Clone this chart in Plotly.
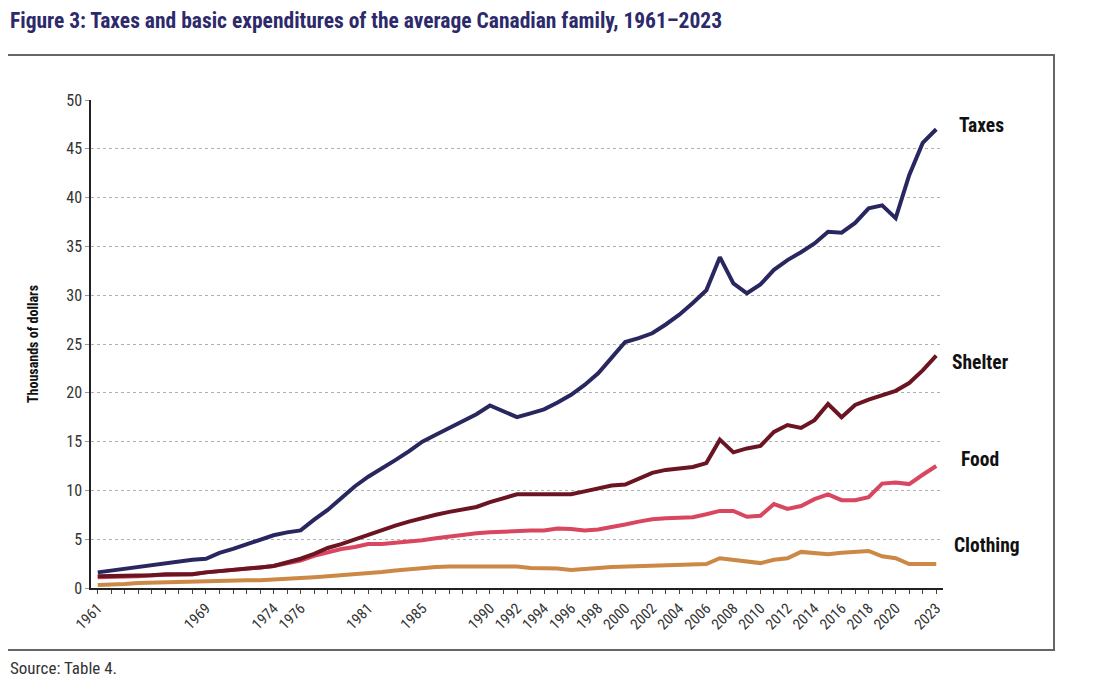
import plotly.graph_objects as go

# Average Canadian family, thousands of dollars
years = list(range(1961, 2024))

taxes = [
    1.6, 1.8, 2.0, 2.2, 2.3, 2.5, 2.7, 2.9, 3.0, 3.6,
    4.0, 4.5, 5.0, 5.4, 5.7, 5.9, 7.0, 8.0, 9.2, 10.4,
    11.4, 12.2, 13.1, 14.0, 15.0, 15.7, 16.4, 17.2, 17.8, 18.7,
    18.1, 17.5, 17.9, 18.3, 19.0, 19.8, 20.8, 22.0, 23.6, 25.2,
    25.6, 26.1, 27.0, 28.0, 29.2, 30.5, 33.9, 31.2, 30.2, 31.1,
    32.6, 33.6, 34.4, 35.3, 36.5, 36.4, 37.4, 38.9, 39.2, 37.9,
    42.3, 45.6, 47.0,
]
shelter = [
    1.2, 1.2, 1.3, 1.3, 1.3, 1.4, 1.4, 1.4, 1.6, 1.7,
    1.85, 2.0, 2.1, 2.25, 2.6, 3.0, 3.5, 4.1, 4.5, 5.0,
    5.4, 5.9, 6.4, 6.8, 7.2, 7.5, 7.8, 8.0, 8.3, 8.8,
    9.2, 9.6, 9.6, 9.6, 9.6, 9.6, 9.9, 10.2, 10.5, 10.6,
    11.2, 11.8, 12.1, 12.3, 12.4, 12.8, 15.2, 13.9, 14.3, 14.55,
    16.0, 16.7, 16.4, 17.2, 18.85, 17.5, 18.75, 19.3, 19.8, 20.2,
    21.0, 22.3, 23.8,
]
food = [
    1.1, 1.1, 1.2, 1.2, 1.3, 1.3, 1.35, 1.4, 1.6, 1.7,
    1.85, 2.0, 2.1, 2.25, 2.5, 2.8, 3.3, 3.7, 4.0, 4.2,
    4.5, 4.5, 4.6, 4.8, 4.9, 5.1, 5.3, 5.5, 5.6, 5.7,
    5.8, 5.9, 5.9, 5.9, 6.1, 6.05, 5.9, 6.0, 6.2, 6.5,
    6.8, 7.05, 7.15, 7.25, 7.25, 7.55, 7.9, 7.9, 7.3, 7.4,
    8.6, 8.1, 8.4, 9.1, 9.6, 9.0, 9.0, 9.3, 10.7, 10.8,
    10.65, 11.6, 12.5,
]
clothing = [
    0.3, 0.3, 0.4, 0.5, 0.55, 0.55, 0.6, 0.6, 0.7, 0.7,
    0.75, 0.8, 0.8, 0.85, 0.95, 1.05, 1.1, 1.2, 1.3, 1.35,
    1.5, 1.65, 1.8, 1.95, 2.05, 2.15, 2.2, 2.2, 2.2, 2.2,
    2.2, 2.2, 2.05, 2.05, 2.0, 1.85, 2.0, 2.05, 2.15, 2.2,
    2.2, 2.3, 2.3, 2.35, 2.45, 2.45, 3.05, 2.9, 2.7, 2.55,
    2.9, 3.05, 3.7, 3.55, 3.45, 3.6, 3.7, 3.8, 3.25, 3.05,
    2.45, 2.45, 2.45,
]

label_years = [1961, 1969, 1974, 1976, 1981, 1985, 1990, 1992, 1994, 1996,
               1998, 2000, 2002, 2004, 2006, 2008, 2010, 2012, 2014, 2016,
               2018, 2020, 2023]

series = [
    ("Clothing", clothing, "#cc8845"),
    ("Food", food, "#d9465f"),
    ("Shelter", shelter, "#6b1422"),
    ("Taxes", taxes, "#29275f"),
]

FONT = "Roboto Condensed, Liberation Sans Narrow, Roboto, sans-serif"

# page body has an 8px margin, so the figure is laid out 8px up-left
L, R, T, B = 83, 152, 92, 97
W, H = 1087, 677
pw, ph = W - L - R, H - T - B


def px(x):
    # screenshot x -> paper x
    return (x - 8 - L) / pw


def py(y):
    # screenshot y -> paper y
    return (H - B - (y - 8)) / ph


fig = go.Figure()
for name, vals, color in series:
    fig.add_scatter(x=years, y=vals, name=name, mode="lines",
                    line=dict(color=color, width=4))

# series labels at the right end of each line
end_labels = [("Taxes", 957, 125), ("Shelter", 950, 362),
              ("Food", 959, 459), ("Clothing", 952, 545)]
for text, x, y in end_labels:
    fig.add_annotation(x=px(x), y=py(y), xref="paper", yref="paper",
                       text=f"<b>{text}</b>", showarrow=False,
                       xanchor="left", yanchor="middle",
                       font=dict(size=19.5, color="#111111", family=FONT))

# outer frame
fig.add_shape(type="rect", xref="paper", yref="paper",
              x0=px(5), x1=px(1054), y0=py(650), y1=py(55),
              line=dict(color="#666666", width=2))

fig.add_annotation(x=px(8), y=py(20), xref="paper", yref="paper",
                   text="<b>Figure 3: Taxes and basic expenditures of the average Canadian family, 1961\u20132023</b>",
                   showarrow=False, xanchor="left", yanchor="middle",
                   font=dict(size=21.5, color="#2d2a6b", family=FONT))
fig.add_annotation(x=px(8), y=py(668), xref="paper", yref="paper",
                   text="Source: Table 4.", showarrow=False,
                   xanchor="left", yanchor="middle",
                   font=dict(size=17, color="#333333", family=FONT))

fig.update_layout(
    width=W, height=H,
    margin=dict(l=L, r=R, t=T, b=B),
    paper_bgcolor="white", plot_bgcolor="white",
    showlegend=False,
    font=dict(family=FONT, color="#333333"),
)
fig.update_xaxes(
    range=[1960.5, 2023.5],
    tickmode="array", tickvals=label_years, ticktext=[str(y) for y in label_years],
    tickangle=-45, tickfont=dict(size=15, color="#333333"),
    showgrid=False, showline=True, linecolor="#222222", linewidth=1.5,
    ticks="outside", ticklen=4, tickcolor="#444444",
    minor=dict(ticks="outside", dtick=1, tick0=1961, ticklen=4, tickcolor="#444444", showgrid=False),
    zeroline=False,
)
fig.update_yaxes(
    range=[0, 50], dtick=5, tick0=0,
    tickfont=dict(size=16, color="#333333"),
    showgrid=True, gridcolor="#b0b0b0", griddash="dot", gridwidth=1,
    showline=True, linecolor="#222222", linewidth=1.5,
    ticks="outside", ticklen=4, tickcolor="#999999",
    zeroline=False,
    title=dict(text="<b>Thousands of dollars</b>", font=dict(size=14, color="#111111"), standoff=24),
)

fig.write_html("out.html")
